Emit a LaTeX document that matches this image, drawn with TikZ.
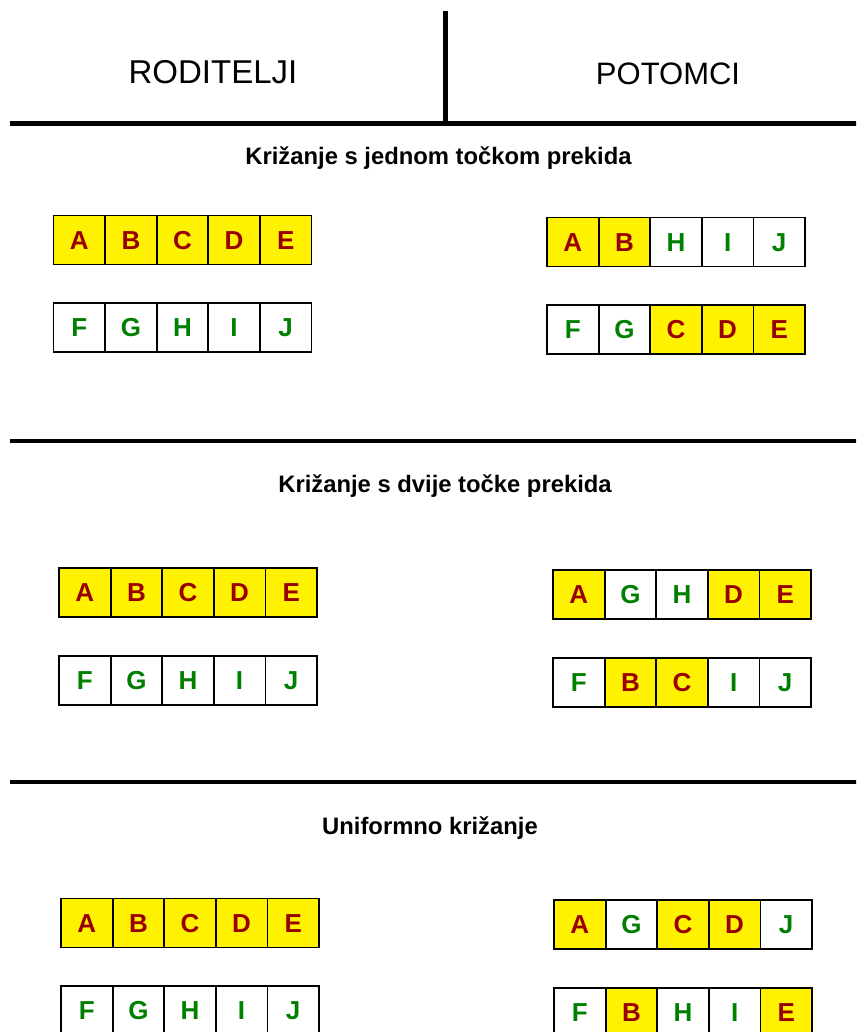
\documentclass[tikz,border=0pt]{standalone}
\usepackage{fontspec}
\setmainfont{Liberation Sans}
\definecolor{gred}{HTML}{990000}
\definecolor{ggreen}{HTML}{008000}
\colorlet{fY}{yellow}
\colorlet{tY}{gred}
\colorlet{fW}{white}
\colorlet{tW}{ggreen}
\newcommand\generow[4]{%
  \foreach \l/\s [count=\i] in {#4} {
    \node[cell, fill=f\s, text=t\s] (#1\i) at ({#2+(\i-0.5)*51.6},#3) {\l};
  }
  \draw[line width=1.8pt] (#11.north west) rectangle (#15.south east);}
\begin{document}
\begin{tikzpicture}[x=1pt,y=-1pt,
  cell/.style={draw=black, line width=1.8pt, minimum width=51.6pt, minimum height=49pt,
    inner sep=0pt, outer sep=0pt, font=\fontsize{26}{26}\selectfont\bfseries,
    text height=18.6pt, text depth=0pt},
  head/.style={anchor=base, inner sep=0pt},
  sect/.style={font=\fontsize{23.8}{24}\selectfont\bfseries, anchor=base, inner sep=0pt},
  rule/.style={line width=4pt, black}]
\clip (0,0) rectangle (856,1032);
\fill[white] (0,0) rectangle (856,1032);

% header
\node[head, font=\fontsize{33}{33}\selectfont] (rod) at (213,84) {RODITELJI};
\node[head, font=\fontsize{31}{31}\selectfont] (pot) at (668,85) {POTOMCI};
\draw[line width=5pt] (445.5,11) -- (445.5,124);
\draw[line width=5pt] (10,124) -- (860,124);
\draw[rule] (10,441) -- (860,441);
\draw[rule] (10,782) -- (860,782);

% section titles
\node[sect] (t1) at (438.5,165) {Križanje s jednom točkom prekida};
\node[sect] (t2) at (445,492) {Križanje s dvije točke prekida};
\node[sect] (t3) at (430,834) {Uniformno križanje};

% section 1
\generow{aP}{53.5}{240}{A/Y,B/Y,C/Y,D/Y,E/Y}
\generow{aQ}{53.5}{327.5}{F/W,G/W,H/W,I/W,J/W}
\generow{aO}{547}{242}{A/Y,B/Y,H/W,I/W,J/W}
\generow{aR}{547}{329.5}{F/W,G/W,C/Y,D/Y,E/Y}

% section 2
\generow{bP}{59}{592.5}{A/Y,B/Y,C/Y,D/Y,E/Y}
\generow{bQ}{59}{680.5}{F/W,G/W,H/W,I/W,J/W}
\generow{bO}{553}{594.5}{A/Y,G/W,H/W,D/Y,E/Y}
\generow{bR}{553}{682.5}{F/W,B/Y,C/Y,I/W,J/W}

% section 3
\generow{cP}{61}{923}{A/Y,B/Y,C/Y,D/Y,E/Y}
\generow{cQ}{61}{1010.5}{F/W,G/W,H/W,I/W,J/W}
\generow{cO}{554}{924.5}{A/Y,G/W,C/Y,D/Y,J/W}
\generow{cR}{554}{1012.5}{F/W,B/Y,H/W,I/W,E/Y}
\end{tikzpicture}
\end{document}
